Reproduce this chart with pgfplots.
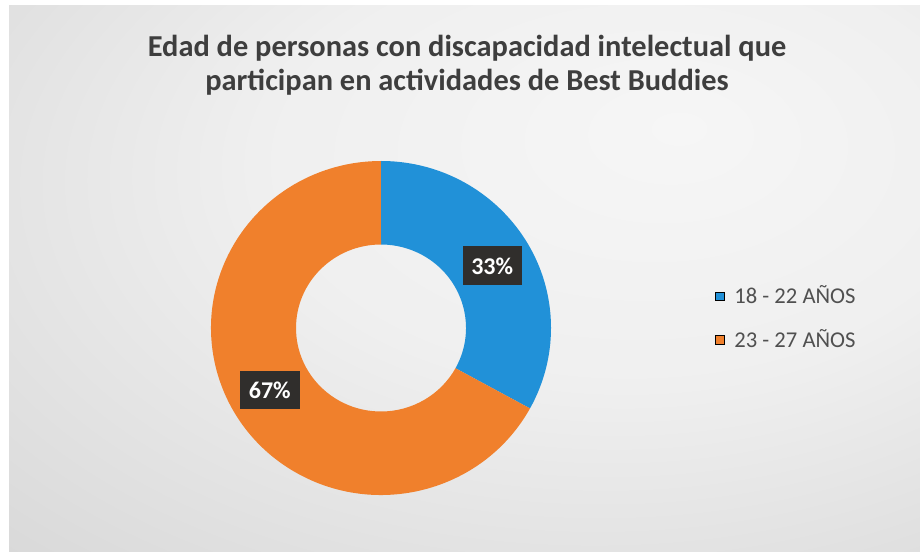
\documentclass[border=0pt]{standalone}
\usepackage{pgfplots}
\pgfplotsset{compat=1.18}
\usepackage{pgfplotstable}
\usepackage{fontspec}
\setmainfont{Carlito}

\definecolor{cblue}{RGB}{33,145,216}
\definecolor{corange}{RGB}{240,128,44}
\definecolor{titlegray}{RGB}{62,62,62}
\definecolor{legendgray}{RGB}{80,80,80}
\definecolor{labelbox}{RGB}{48,46,44}
\definecolor{bgin}{RGB}{246,246,246}
\definecolor{bgout}{RGB}{202,202,202}

\pgfdeclareradialshading{bgshade}{\pgfpoint{12bp}{14bp}}{%
  color(0bp)=(bgin); color(20bp)=(bgin!85!bgout); color(60bp)=(bgout); color(80bp)=(bgout)}

% edad -> porcentaje
\pgfplotstableread[col sep=comma]{
grupo,valor
18 - 22 AÑOS,33
23 - 27 AÑOS,67
}\piedata

\begin{document}
\begin{tikzpicture}
\pgfplotstablegetelem{0}{valor}\of\piedata \pgfmathsetmacro{\va}{\pgfplotsretval}
\pgfplotstablegetelem{1}{valor}\of\piedata \pgfmathsetmacro{\vb}{\pgfplotsretval}
\pgfmathsetmacro{\total}{\va+\vb}
\pgfmathsetmacro{\aS}{90}
\pgfmathsetmacro{\aM}{90-\va/\total*360}
\pgfmathsetmacro{\aE}{\aM-\vb/\total*360}
\pgfmathsetmacro{\mA}{(\aS+\aM)/2}
\pgfmathsetmacro{\mB}{(\aM+\aE)/2}
\pgfmathtruncatemacro{\pa}{round(\va/\total*100)}
\pgfmathtruncatemacro{\pb}{round(\vb/\total*100)}
% centre and radii in pixel units (1 unit = 0.5pt)
\def\cx{381}\def\cy{223}\def\rx{170}\def\ry{167}
\def\hole{0.5}

\fill[white] (0,0) rectangle (460pt,275.5pt);
\shade[shading=bgshade] (4.5pt,0) rectangle (460pt,272.5pt);

\begin{axis}[
  at={(0,0)}, anchor=south west,
  x=0.5pt, y=0.5pt,
  xmin=0, xmax=920, ymin=0, ymax=551,
  hide axis, clip=false,
  legend style={at={(0.777,0.423)}, anchor=west, draw=none, fill=none,
    font=\fontsize{11.3}{13}\selectfont, text=legendgray, row sep=7.3pt,
    inner sep=0pt, nodes={inner xsep=5pt}},
  legend cell align=left,
  legend image code/.code={\fill[#1] (0pt,-2.1pt) rectangle (4.2pt,2.1pt);},
]
\addlegendimage{fill=cblue}
\addlegendentry{18 - 22 AÑOS}
\addlegendimage{fill=corange}
\addlegendentry{23 - 27 AÑOS}

\fill[cblue] (axis cs:{\cx+\rx*cos(\aS)},{\cy+\ry*sin(\aS)})
  arc[start angle=\aS, end angle=\aM, x radius=0.5*\rx pt, y radius=0.5*\ry pt]
  -- (axis cs:{\cx+\hole*\rx*cos(\aM)},{\cy+\hole*\ry*sin(\aM)})
  arc[start angle=\aM, end angle=\aS, x radius=0.5*\hole*\rx pt, y radius=0.5*\hole*\ry pt]
  -- cycle;
\fill[corange] (axis cs:{\cx+\rx*cos(\aM)},{\cy+\ry*sin(\aM)})
  arc[start angle=\aM, end angle=\aE, x radius=0.5*\rx pt, y radius=0.5*\ry pt]
  -- (axis cs:{\cx+\hole*\rx*cos(\aE)},{\cy+\hole*\ry*sin(\aE)})
  arc[start angle=\aE, end angle=\aM, x radius=0.5*\hole*\rx pt, y radius=0.5*\hole*\ry pt]
  -- cycle;

\node[fill=labelbox, text=white, font=\bfseries\fontsize{12}{14}\selectfont,
  minimum width=29.5pt, minimum height=19.5pt, inner sep=0pt]
  at (axis cs:{\cx+0.76*\rx*cos(\mA)},{\cy+0.73*\ry*sin(\mA)}) {\pa\%};
\node[fill=labelbox, text=white, font=\bfseries\fontsize{12}{14}\selectfont,
  minimum width=30pt, minimum height=19pt, inner sep=0pt]
  at (axis cs:{\cx+0.76*\rx*cos(\mB)},{\cy+0.73*\ry*sin(\mB)}) {\pb\%};

\node[font=\bfseries\fontsize{15.2}{17}\selectfont, text=titlegray, align=center]
  at (axis cs:467,486) {Edad de personas con discapacidad intelectual que\\participan en actividades de Best Buddies};
\end{axis}
\end{tikzpicture}
\end{document}
